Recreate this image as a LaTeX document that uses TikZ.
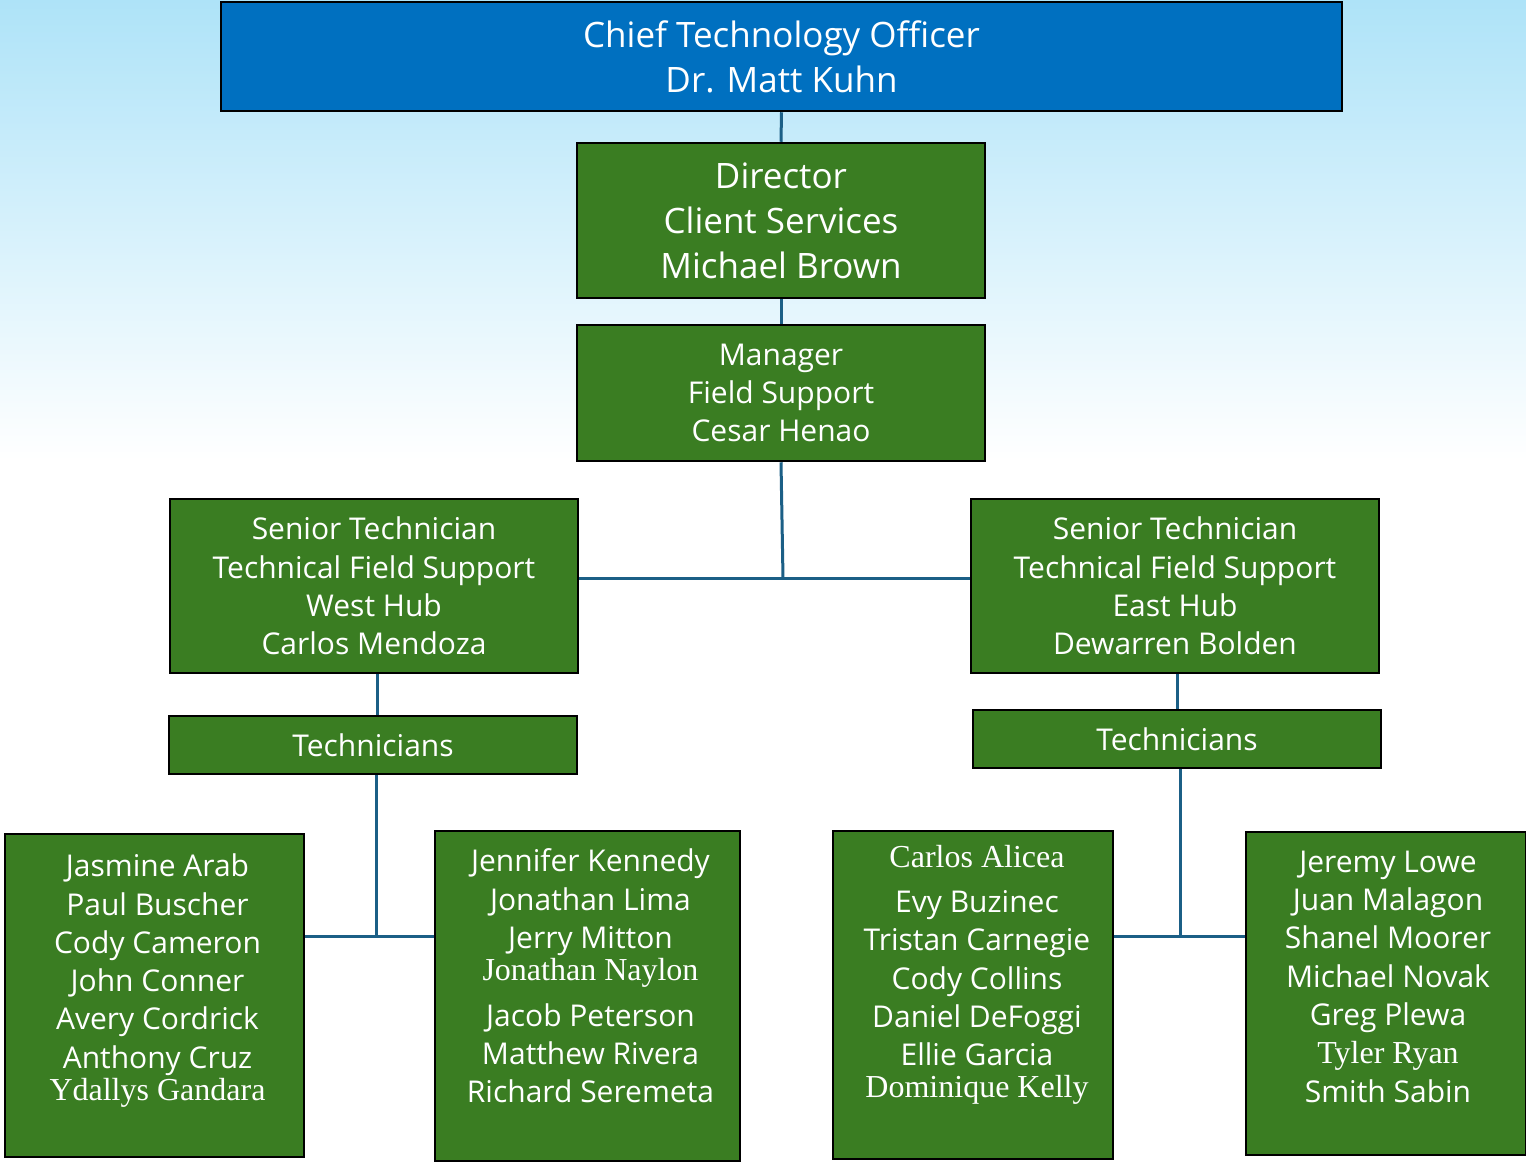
\documentclass[tikz,border=0pt]{standalone}
\usepackage{fontspec}
\setmainfont{Open Sans}
\newfontfamily\serifname{Liberation Serif}
\usepackage{tikz}
\usetikzlibrary{positioning}
\definecolor{ctoblue}{HTML}{0070C0}
\definecolor{teamgreen}{HTML}{3A7D22}
\definecolor{linkblue}{HTML}{1B5F86}
\definecolor{skytop}{HTML}{AEE3F8}

\tikzset{
  rolebox/.style={fill=teamgreen, draw=black, line width=2.5pt, text=white,
    align=center, inner sep=0pt, minimum width=408pt},
  namebox/.style={fill=teamgreen, draw=black, line width=2.5pt, inner sep=0pt},
  nametext/.style={text=white, align=center, inner sep=0pt,
    font=\fontsize{30}{38.3}\selectfont},
  link/.style={draw=linkblue, line width=3pt}
}
\newcommand{\sname}[1]{{\serifname\fontsize{32}{38.3}\selectfont #1}}

\begin{document}
\begin{tikzpicture}[x=1pt, y=-1pt]
  % background
  \useasboundingbox (0,0) rectangle (1526,1163);
  \fill[white] (0,0) rectangle (1526,1163);
  \shade[top color=skytop, bottom color=white] (0,0) rectangle (1526,460);

  % top of the chart
  \node[fill=ctoblue, draw=black, line width=2.5pt, text=white, align=center,
        inner sep=0pt, minimum width=1121pt, minimum height=109pt,
        font=\fontsize{35}{45}\selectfont] (cto) at (781.5,56.5)
        {Chief Technology Officer\\Dr. Matt Kuhn};
  \node[rolebox, minimum height=155pt, font=\fontsize{35}{45}\selectfont]
        (dir) at (781,220.5) {Director\\Client Services\\Michael Brown};
  \node[rolebox, minimum height=136pt, font=\fontsize{30}{38.3}\selectfont]
        (mgr) at (781,393) {Manager\\Field Support\\Cesar Henao};

  % hubs
  \node[rolebox, minimum height=174pt, font=\fontsize{30}{38.3}\selectfont]
        (westsr) at (374,586)
        {Senior Technician\\Technical Field Support\\West Hub\\Carlos Mendoza};
  \node[rolebox, minimum height=174pt, font=\fontsize{30}{38.3}\selectfont]
        (eastsr) at (1175,586)
        {Senior Technician\\Technical Field Support\\East Hub\\Dewarren Bolden};
  \node[rolebox, minimum height=58pt, font=\fontsize{30}{38.3}\selectfont]
        (westtech) at (373,745) {Technicians};
  \node[rolebox, minimum height=58pt, font=\fontsize{30}{38.3}\selectfont]
        (easttech) at (1177,739) {Technicians};

  % technician groups
  \node[namebox, minimum width=299pt, minimum height=323pt] (grpA) at (154.5,995.5) {};
  \node[namebox, minimum width=305pt, minimum height=330pt] (grpB) at (587.5,996) {};
  \node[namebox, minimum width=280pt, minimum height=328pt] (grpC) at (973,995) {};
  \node[namebox, minimum width=280pt, minimum height=323pt] (grpD) at (1386,993.5) {};

  \node[nametext, below=21pt of grpA.north, xshift=3pt] (grpA-txt)
    {Jasmine Arab\\Paul Buscher\\Cody Cameron\\John Conner\\Avery Cordrick\\Anthony Cruz\\[-6pt]
     \sname{Ydallys Gandara}};
  \node[nametext, below=19pt of grpB.north, xshift=3pt] (grpB-txt)
    {Jennifer Kennedy\\Jonathan Lima\\Jerry Mitton\\[-6pt]\sname{Jonathan Naylon}\\[7pt]
     Jacob Peterson\\Matthew Rivera\\Richard Seremeta};
  \node[nametext, below=15pt of grpC.north, xshift=4pt] (grpC-txt)
    {\sname{Carlos Alicea}\\[7pt]Evy Buzinec\\Tristan Carnegie\\Cody Collins\\Daniel DeFoggi\\
     Ellie Garcia\\[-6pt]\sname{Dominique Kelly}};
  \node[nametext, below=20pt of grpD.north, xshift=2pt] (grpD-txt)
    {Jeremy Lowe\\Juan Malagon\\Shanel Moorer\\Michael Novak\\Greg Plewa\\
     \sname{Tyler Ryan}\\Smith Sabin};

  % connectors
  \draw[link] (cto.south) -- (dir.north);
  \draw[link] (dir.south) -- (mgr.north);
  \path (mgr.south) ++(2,116) coordinate (srjoin);
  \draw[link] (mgr.south) -- (srjoin);
  \draw[link] (westsr.east |- srjoin) -- (eastsr.west |- srjoin);
  \path (westsr.south) ++(3,0) coordinate (westdrop);
  \path (easttech.south) ++(3,167) coordinate (eastjoin);
  \draw[link] (westdrop) -- (westdrop |- westtech.north);
  \draw[link] (eastsr.south) ++(2,0) -- (easttech.north);
  \path (westtech.south) ++(3,161) coordinate (westjoin);
  \draw[link] (westjoin |- westtech.south) -- (westjoin);
  \draw[link] (grpA.east |- westjoin) -- (grpB.west |- westjoin);
  \draw[link] (eastjoin |- easttech.south) -- (eastjoin);
  \draw[link] (grpC.east |- eastjoin) -- (grpD.west |- eastjoin);
\end{tikzpicture}
\end{document}
